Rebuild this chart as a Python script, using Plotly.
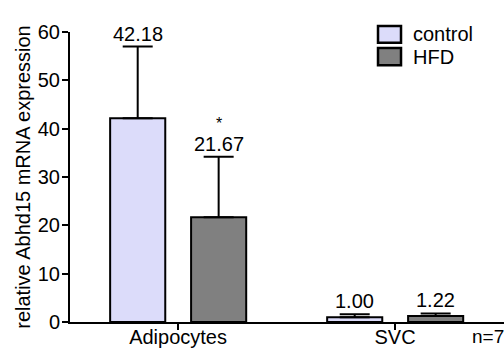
import plotly.graph_objects as go

# Relative Abhd15 mRNA expression, mean and SD per cell fraction
categories = ["Adipocytes", "SVC"]
groups = ["control", "HFD"]
control_mean = [42.18, 1.00]
control_sd = [14.8, 0.6]
hfd_mean = [21.67, 1.22]
hfd_sd = [12.5, 0.55]
hfd_marks = ["*", ""]
y_ticks = [0, 10, 20, 30, 40, 50, 60]
sample_note = "n=7"

FONT = "Liberation Sans, Arial, Helvetica, sans-serif"
colors = {"control": "#DCDCFA", "HFD": "#808080"}
bar_width = 0.254
offsets = {"control": -0.313, "HFD": 0.060}

xpos = list(range(len(categories)))
series = {"control": (control_mean, control_sd), "HFD": (hfd_mean, hfd_sd)}

fig = go.Figure()
for g in groups:
    mean, sd = series[g]
    fig.add_trace(go.Bar(
        x=xpos, y=mean, name=g,
        width=bar_width, offset=offsets[g],
        marker=dict(color=colors[g], line=dict(color="black", width=2)),
        error_y=dict(type="data", symmetric=False, array=sd,
                     arrayminus=[0] * len(sd), color="black",
                     thickness=2, width=15),
        showlegend=False,
        cliponaxis=False,
    ))

# value labels above each error bar
annotations = []
for g in groups:
    mean, sd = series[g]
    for i, (m, s) in enumerate(zip(mean, sd)):
        xc = xpos[i] + offsets[g] + bar_width / 2
        annotations.append(dict(
            x=xc, y=m + s, xref="x", yref="y", text=f"{m:.2f}",
            showarrow=False, yanchor="bottom", yshift=0,
            font=dict(family=FONT, size=20, color="black")))
for i, mark in enumerate(hfd_marks):
    if mark:
        xc = xpos[i] + offsets["HFD"] + bar_width / 2
        annotations.append(dict(
            x=xc, y=hfd_mean[i] + hfd_sd[i], xref="x", yref="y", text=mark,
            showarrow=False, yanchor="bottom", yshift=23,
            font=dict(family=FONT, size=16, color="black")))

annotations.append(dict(
    x=0.922, y=-0.05, xref="paper", yref="paper", text=sample_note,
    showarrow=False, xanchor="left", yanchor="middle",
    font=dict(family=FONT, size=19, color="black")))

# legend drawn as boxes with labels
shapes = []
legend_rows = [(1.0207, 0.9631, 0.9948), (0.9448, 0.8852, 0.9121)]
for g, (y0, y1, yt) in zip(groups, legend_rows):
    shapes.append(dict(type="rect", xref="paper", yref="paper",
                       x0=0.7097, x1=0.7627, y0=y1, y1=y0,
                       fillcolor=colors[g], line=dict(color="black", width=2.5)))
    annotations.append(dict(
        x=0.7857, y=yt, xref="paper", yref="paper", text=g,
        showarrow=False, xanchor="left", yanchor="middle",
        font=dict(family=FONT, size=20, color="black")))

fig.update_layout(
    width=504, height=350,
    margin=dict(l=70, r=0, t=32, b=28),
    paper_bgcolor="white", plot_bgcolor="white",
    barmode="overlay",
    font=dict(family=FONT, size=20, color="black"),
    annotations=annotations, shapes=shapes,
    xaxis=dict(
        range=[-0.498, 1.502], tickvals=xpos, ticktext=categories,
        showline=True, linecolor="black", linewidth=2,
        ticks="outside", ticklen=6, tickwidth=2, tickcolor="black",
        ticklabelstandoff=-10,
        showgrid=False, zeroline=False, automargin=False,
        tickfont=dict(family=FONT, size=20, color="black"),
    ),
    yaxis=dict(
        range=[0, 60], tickvals=y_ticks,
        showline=True, linecolor="black", linewidth=2,
        ticks="outside", ticklen=6, tickwidth=2, tickcolor="black",
        ticklabelstandoff=-2,
        showgrid=False, zeroline=False, automargin=False,
        tickfont=dict(family=FONT, size=20, color="black"),
        title=dict(text="relative Abhd15 mRNA expression",
                   font=dict(family=FONT, size=20, color="black"),
                   standoff=2),
    ),
)

fig.write_html("out.html")
